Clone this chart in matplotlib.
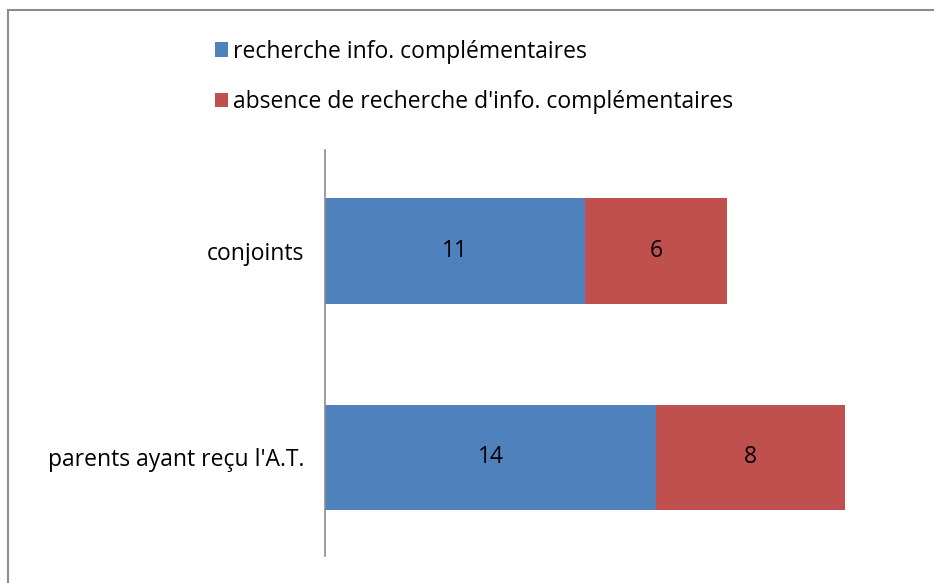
import matplotlib.pyplot as plt
from matplotlib.patches import Rectangle

plt.rcParams['font.family'] = ['Open Sans', 'DejaVu Sans']

categories = ["parents ayant reçu l'A.T.", "conjoints"]
recherche = [14, 11]
absence = [8, 6]
series_labels = ["recherche info. complémentaires",
                 "absence de recherche d'info. complémentaires"]
colors = ["#4F81BD", "#C0504D"]

W, H = 934, 583
fig = plt.figure(figsize=(W / 100, H / 100), dpi=100)

# outer chart border (runs off the right and bottom edges)
fig.patches.append(Rectangle((8 / W, -0.05), 1.0, 1 - 10 / H + 0.05,
                             transform=fig.transFigure, fill=False,
                             edgecolor="#8c8c8c", linewidth=1.5))

ax = fig.add_axes([325 / W, 1 - 556 / H, 591 / W, 406 / H])
y = list(range(len(categories)))
b1 = ax.barh(y, recherche, height=0.51, color=colors[0], label=series_labels[0])
b2 = ax.barh(y, absence, left=recherche, height=0.51, color=colors[1],
             label=series_labels[1])
ax.bar_label(b1, label_type="center", fontsize=16.5)
ax.bar_label(b2, label_type="center", fontsize=16.5)

ax.set_xlim(0, 25)
ax.set_ylim(-0.48, 1.49)
ax.set_yticks(y)
ax.set_yticklabels(categories, fontsize=16.5)
ax.tick_params(axis="y", length=0, pad=15)
ax.set_xticks([])
for s in ["top", "right", "bottom"]:
    ax.spines[s].set_visible(False)
ax.spines["left"].set_color("#8c8c8c")
ax.spines["left"].set_linewidth(1.2)

fig.legend(handles=[b1, b2], loc="upper left",
           bbox_to_anchor=(194 / W, 1 - 19 / H), frameon=False,
           fontsize=16.5, handlelength=0.6, handleheight=0.6,
           handletextpad=0.2, labelspacing=1.15)

fig.savefig("out.png", dpi=100)
